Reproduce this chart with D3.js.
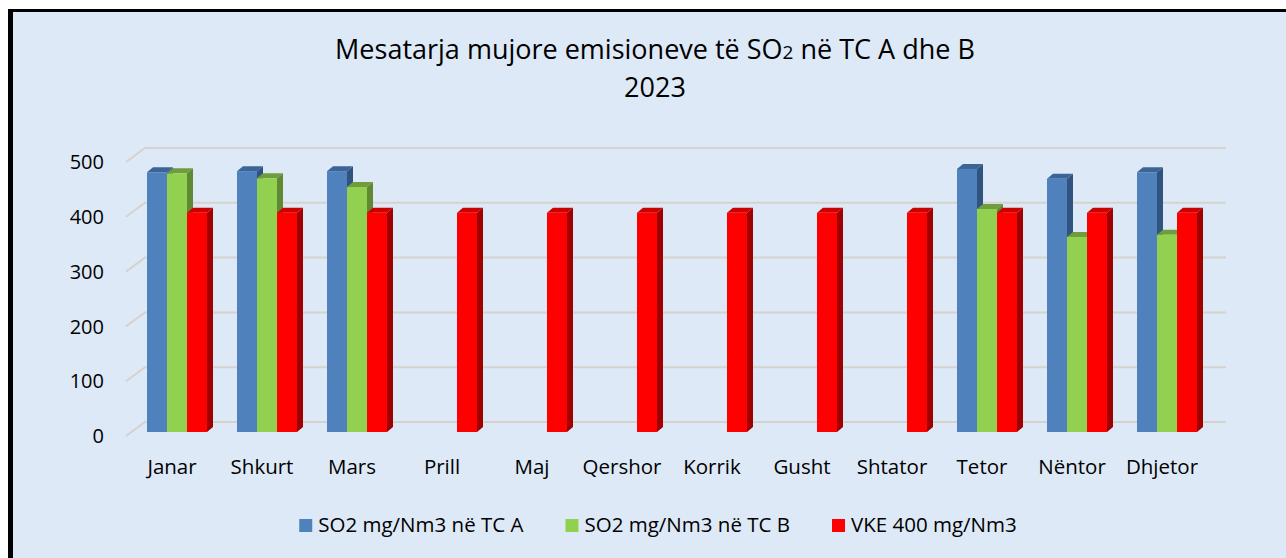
<!DOCTYPE html>
<html lang="sq">
<head>
<meta charset="UTF-8">
<title>Mesatarja mujore emisioneve të SO2</title>
<style>
  body { margin: 0; background: #fff; }
  svg { display: block; font-family: "Open Sans", Lato, sans-serif; }
</style>
</head>
<body>
<svg id="chart" width="1286" height="558"></svg>
<script src="https://d3js.org/d3.v7.min.js"></script>
<script>
// te dhenat
const months = ["Janar", "Shkurt", "Mars", "Prill", "Maj", "Qershor", "Korrik", "Gusht", "Shtator", "Tetor", "Nëntor", "Dhjetor"];
const tcA = [474, 476, 476, null, null, null, null, null, null, 480, 462, 474];
const tcB = [472, 463, 447, null, null, null, null, null, null, 407, 356, 360];
const vke = [400, 400, 400, 400, 400, 400, 400, 400, 400, 400, 400, 400];
const seriesNames = ["SO2 mg/Nm3 në TC A", "SO2 mg/Nm3 në TC B", "VKE 400 mg/Nm3"];
const yTicks = [0, 100, 200, 300, 400, 500];

const series = [tcA, tcB, vke];
// front, top, side
const colors = [
  ["#4f81bd", "#3b6596", "#30547f"],
  ["#92d050", "#6f9c3d", "#5f8a33"],
  ["#ff0000", "#cc0000", "#a10000"]
];

const svg = d3.select("#chart");
const W = +svg.attr("width"), H = +svg.attr("height");

// sfondi dhe korniza
svg.append("rect").attr("x", 8).attr("y", 9).attr("width", W).attr("height", H)
  .attr("fill", "#000");
svg.append("rect").attr("x", 13).attr("y", 12).attr("width", W).attr("height", H)
  .attr("fill", "#dde9f6");

// titulli
const title = svg.append("text").attr("text-anchor", "middle").attr("font-size", 27).attr("fill", "#000");
const t1 = title.append("tspan").attr("x", 655).attr("y", 59);
t1.append("tspan").text("Mesatarja mujore emisioneve të SO");
t1.append("tspan").attr("font-size", 19).text("2");
t1.append("tspan").text(" në TC A dhe B");
title.append("tspan").attr("x", 655).attr("y", 97).text("2023");

// 3D: muri i pasem
const depth = { dx: 19, dy: -14 };   // nga para ne mur
const yBack = d3.scaleLinear().domain([0, 500]).range([422, 148]);
const backX0 = 145, backX1 = 1226;

const grid = svg.append("g");
yTicks.forEach(v => {
  const yb = yBack(v);
  grid.append("path")
    .attr("d", `M${backX0 - depth.dx},${yb - depth.dy}L${backX0},${yb}L${backX1},${yb}`)
    .attr("fill", "none")
    .attr("stroke", "#d6d2cd")
    .attr("stroke-width", 2);
});

// etiketat e boshtit y
svg.append("g").selectAll("text").data(yTicks).join("text")
  .attr("x", 104)
  .attr("y", d => yBack(d) - depth.dy)
  .attr("dy", "0.36em")
  .attr("text-anchor", "end")
  .attr("font-size", 20)
  .text(d => d);

// shiritat
const x0 = d3.scaleBand().domain(months).range([132, 1212]).paddingInner(1 / 3).paddingOuter(1 / 6);
const x1 = d3.scaleBand().domain([0, 1, 2]).range([0, x0.bandwidth()]);
const barOff = 10;            // sa para murit eshte faqja e pare
const bd = { dx: 6, dy: -5 }; // thellesia e shiritit
const yFront = v => yBack(v) + barOff;

const bars = svg.append("g");
months.forEach((m, i) => {
  series.forEach((s, k) => {
    const v = s[i];
    if (v == null) return;
    const x = x0(m) + x1(k), w = x1.bandwidth();
    const yt = yFront(v), yb = yFront(0);
    const g = bars.append("g");
    // faqja anesore
    g.append("path")
      .attr("d", `M${x + w},${yt}L${x + w + bd.dx},${yt + bd.dy}L${x + w + bd.dx},${yb + bd.dy}L${x + w},${yb}Z`)
      .attr("fill", colors[k][2]);
    // faqja e siperme
    g.append("path")
      .attr("d", `M${x},${yt}L${x + bd.dx},${yt + bd.dy}L${x + w + bd.dx},${yt + bd.dy}L${x + w},${yt}Z`)
      .attr("fill", colors[k][1]);
    // faqja e pare
    g.append("rect")
      .attr("x", x).attr("y", yt).attr("width", w).attr("height", yb - yt)
      .attr("fill", colors[k][0]);
  });
});

// etiketat e muajve
svg.append("g").selectAll("text").data(months).join("text")
  .attr("x", d => x0(d) + x0.bandwidth() / 2 - 5)
  .attr("y", 474)
  .attr("text-anchor", "middle")
  .attr("font-size", 20.5)
  .text(d => d);

// legjenda
const legend = svg.append("g");
const items = seriesNames.map((name, k) => {
  const g = legend.append("g");
  g.append("rect").attr("width", 13).attr("height", 13).attr("y", -13).attr("fill", colors[k][0]);
  const t = g.append("text").attr("x", 19).attr("font-size", 20.5).text(name);
  return { g, w: 19 + t.node().getComputedTextLength() };
});
const gap = 42;
const total = d3.sum(items, d => d.w) + gap * (items.length - 1);
let lx = 658 - total / 2;
items.forEach(it => {
  it.g.attr("transform", `translate(${lx},532)`);
  lx += it.w + gap;
});
</script>
</body>
</html>
